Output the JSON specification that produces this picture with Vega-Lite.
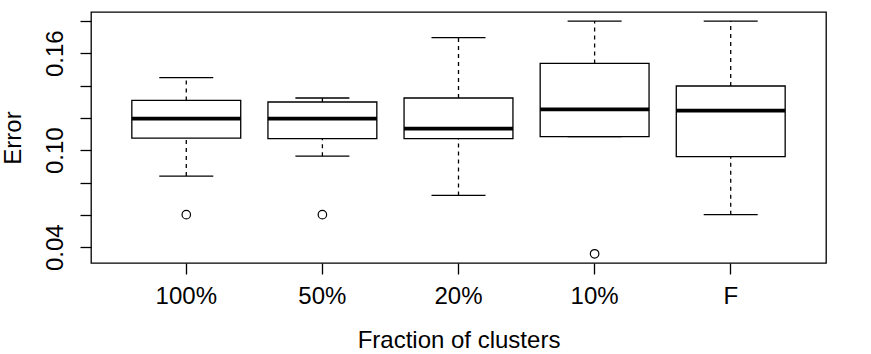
{
  "$schema": "https://vega.github.io/schema/vega-lite/v6.json",
  "width": 735,
  "height": 251,
  "autosize": "none",
  "padding": {"left": 91, "top": 12, "right": 45, "bottom": 91},
  "background": "white",
  "config": {
    "font": "Liberation Sans",
    "view": {"stroke": "black", "strokeWidth": 1.3},
    "axis": {"grid": false, "domain": false, "tickColor": "black", "tickWidth": 1.3, "labelColor": "black", "titleColor": "black", "labelFontSize": 24, "titleFontSize": 24, "titleFontWeight": "normal", "labelFont": "Liberation Sans", "titleFont": "Liberation Sans", "labelOverlap": false}
  },
  "datasets": {
    "stats": [
      {"grp": "100%", "lo": 0.0840, "q1": 0.1075, "med": 0.1195, "q3": 0.1308, "hi": 0.1449},
      {"grp": "50%", "lo": 0.0963, "q1": 0.1071, "med": 0.1195, "q3": 0.1298, "hi": 0.1323},
      {"grp": "20%", "lo": 0.0720, "q1": 0.1071, "med": 0.1133, "q3": 0.1323, "hi": 0.1697},
      {"grp": "10%", "lo": 0.1084, "q1": 0.1084, "med": 0.1253, "q3": 0.1537, "hi": 0.1799},
      {"grp": "F", "lo": 0.0601, "q1": 0.0960, "med": 0.1245, "q3": 0.1397, "hi": 0.1799}
    ],
    "outliers": [
      {"grp": "100%", "v": 0.0601},
      {"grp": "50%", "v": 0.0601},
      {"grp": "10%", "v": 0.0359}
    ]
  },
  "encoding": {
    "x": {
      "field": "grp", "type": "nominal",
      "sort": ["100%", "50%", "20%", "10%", "F"],
      "scale": {"domain": ["100%", "50%", "20%", "10%", "F"], "paddingInner": 0.2, "paddingOuter": 0.3},
      "axis": {"title": "Fraction of clusters", "labelAngle": 0, "tickSize": 11, "labelPadding": 10, "titlePadding": 20}
    }
  },
  "layer": [
    {
      "data": {"name": "stats"},
      "mark": {"type": "rule", "color": "black", "strokeWidth": 1.3, "strokeDash": [4, 4]},
      "encoding": {
        "y": {"field": "q3", "type": "quantitative", "scale": {"domain": [0.0302, 0.1855], "nice": false, "zero": false},
          "axis": {"title": "Error", "values": [0.04, 0.06, 0.08, 0.1, 0.12, 0.14, 0.16, 0.18], "tickCount": 20, "format": ".2f",
            "labelExpr": "(datum.label == '0.04' || datum.label == '0.10' || datum.label == '0.16') ? datum.label : ''",
            "labelAngle": -90, "labelAlign": "center", "labelBaseline": "bottom", "tickSize": 11, "labelPadding": 13, "titlePadding": 18}},
        "y2": {"field": "hi"}
      }
    },
    {
      "data": {"name": "stats"},
      "mark": {"type": "rule", "color": "black", "strokeWidth": 1.3, "strokeDash": [4, 4]},
      "encoding": {
        "y": {"field": "lo", "type": "quantitative"},
        "y2": {"field": "q1"}
      }
    },
    {
      "data": {"name": "stats"},
      "mark": {"type": "tick", "color": "black", "opacity": 1, "size": 54, "thickness": 1.3, "orient": "horizontal"},
      "encoding": {"y": {"field": "hi", "type": "quantitative"}}
    },
    {
      "data": {"name": "stats"},
      "mark": {"type": "tick", "color": "black", "opacity": 1, "size": 54, "thickness": 1.3, "orient": "horizontal"},
      "encoding": {"y": {"field": "lo", "type": "quantitative"}}
    },
    {
      "data": {"name": "stats"},
      "mark": {"type": "bar", "fill": "white", "stroke": "black", "strokeWidth": 1.3, "opacity": 1},
      "encoding": {
        "y": {"field": "q1", "type": "quantitative"},
        "y2": {"field": "q3"}
      }
    },
    {
      "data": {"name": "stats"},
      "mark": {"type": "tick", "color": "black", "opacity": 1, "size": 109, "thickness": 3.7, "orient": "horizontal"},
      "encoding": {"y": {"field": "med", "type": "quantitative"}}
    },
    {
      "data": {"name": "outliers"},
      "mark": {"type": "point", "shape": "circle", "filled": false, "stroke": "black", "strokeWidth": 1.2, "size": 72, "opacity": 1},
      "encoding": {"y": {"field": "v", "type": "quantitative"}}
    }
  ]
}
